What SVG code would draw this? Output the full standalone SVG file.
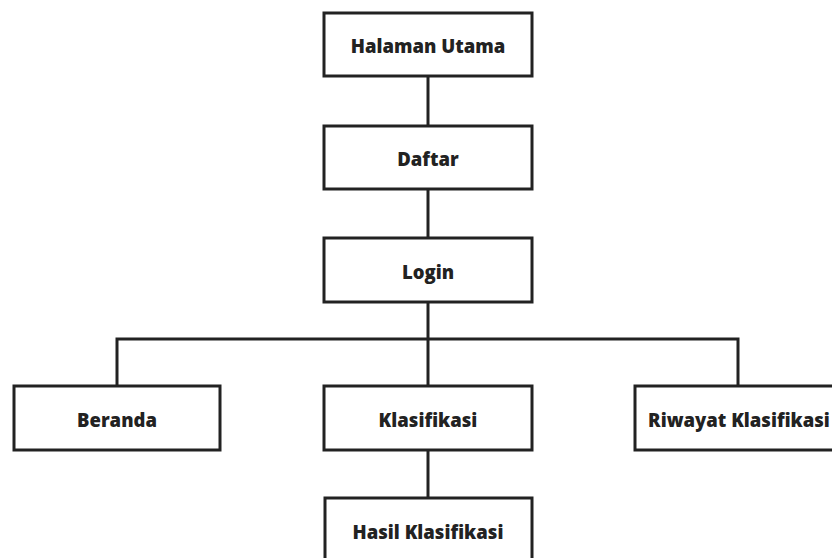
<svg xmlns="http://www.w3.org/2000/svg" width="832" height="558" viewBox="0 0 832 558">
<style>
.box{fill:#fff;stroke:#222;stroke-width:3}
.lbl{font-family:"Open Sans",sans-serif;font-weight:800;font-size:18.5px;fill:#222;text-anchor:middle}
.con{fill:none;stroke:#222;stroke-width:3}
</style>
<rect width="832" height="558" fill="#fff"/>
<g id="connectors">
<path class="con" d="M428 76V126"/>
<path class="con" d="M428 189V238"/>
<path class="con" d="M428 302V386"/>
<path class="con" d="M117 386V339H738V386"/>
<path class="con" d="M428 450V498"/>
</g>
<g id="halaman-utama"><rect class="box" x="324" y="13" width="208" height="63"/><text class="lbl" x="428" y="53">Halaman Utama</text></g>
<g id="daftar"><rect class="box" x="324" y="126" width="208" height="63"/><text class="lbl" x="428" y="166">Daftar</text></g>
<g id="login"><rect class="box" x="324" y="238" width="208" height="64"/><text class="lbl" x="428" y="278.5">Login</text></g>
<g id="beranda"><rect class="box" x="14" y="386" width="206" height="64"/><text class="lbl" x="117" y="426.5">Beranda</text></g>
<g id="klasifikasi"><rect class="box" x="324" y="386" width="208" height="64"/><text class="lbl" x="428" y="426.5">Klasifikasi</text></g>
<g id="riwayat-klasifikasi"><rect class="box" x="635" y="386" width="208" height="64"/><text class="lbl" x="739" y="426.5">Riwayat Klasifikasi</text></g>
<g id="hasil-klasifikasi"><rect class="box" x="325" y="498" width="207" height="64"/><text class="lbl" x="428" y="538.5">Hasil Klasifikasi</text></g>
</svg>
